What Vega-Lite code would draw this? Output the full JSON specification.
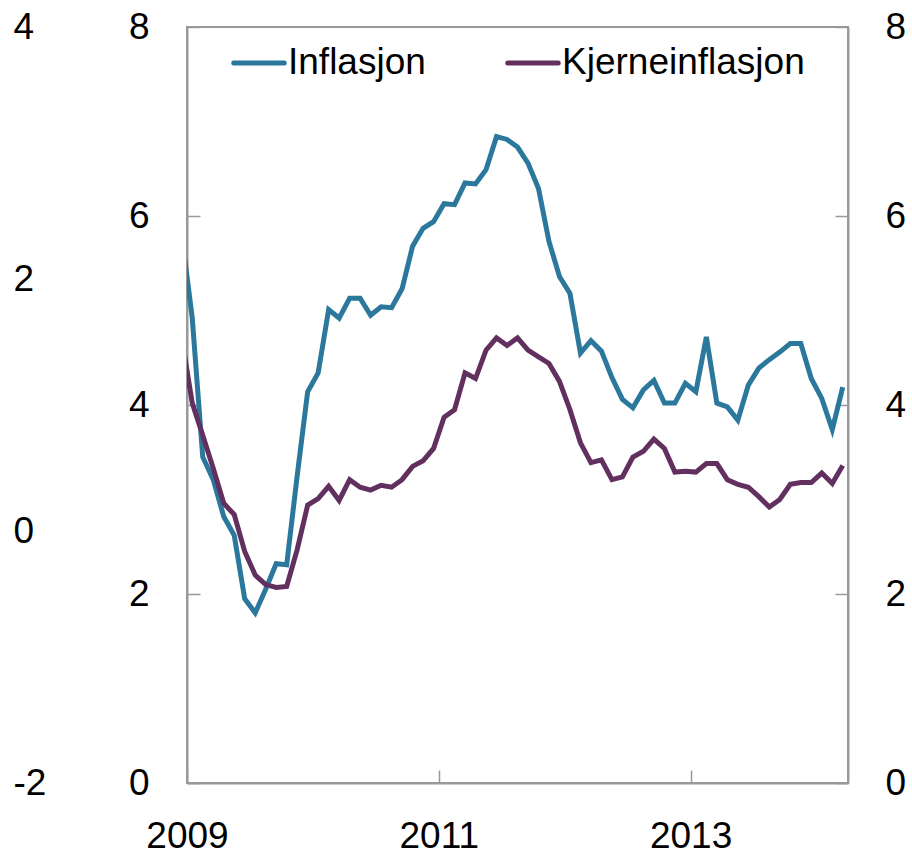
{
  "$schema": "https://vega.github.io/schema/vega-lite/v6.json",
  "width": 661,
  "height": 756,
  "autosize": {"type": "none"},
  "padding": {"left": 187, "top": 27, "right": 64, "bottom": 72},
  "config": {
    "view": {"stroke": "#999999", "strokeWidth": 2},
    "font": "Liberation Sans",
    "axis": {
      "labelFont": "Liberation Sans",
      "labelFontSize": 37,
      "labelColor": "#000000",
      "domainColor": "#999999",
      "domainWidth": 2,
      "tickColor": "#999999",
      "tickWidth": 1.5,
      "grid": false,
      "title": null
    }
  },
  "data": {
    "values": [
      {"t": 2008.9583, "s": "Inflasjon", "v": 5.8},
      {"t": 2009.0417, "s": "Inflasjon", "v": 4.92},
      {"t": 2009.125, "s": "Inflasjon", "v": 3.45},
      {"t": 2009.2083, "s": "Inflasjon", "v": 3.21},
      {"t": 2009.2917, "s": "Inflasjon", "v": 2.82},
      {"t": 2009.375, "s": "Inflasjon", "v": 2.62},
      {"t": 2009.4583, "s": "Inflasjon", "v": 1.95},
      {"t": 2009.5417, "s": "Inflasjon", "v": 1.8},
      {"t": 2009.625, "s": "Inflasjon", "v": 2.05},
      {"t": 2009.7083, "s": "Inflasjon", "v": 2.32},
      {"t": 2009.7917, "s": "Inflasjon", "v": 2.31},
      {"t": 2009.875, "s": "Inflasjon", "v": 3.25},
      {"t": 2009.9583, "s": "Inflasjon", "v": 4.14},
      {"t": 2010.0417, "s": "Inflasjon", "v": 4.34},
      {"t": 2010.125, "s": "Inflasjon", "v": 5.01},
      {"t": 2010.2083, "s": "Inflasjon", "v": 4.92},
      {"t": 2010.2917, "s": "Inflasjon", "v": 5.13},
      {"t": 2010.375, "s": "Inflasjon", "v": 5.13},
      {"t": 2010.4583, "s": "Inflasjon", "v": 4.95},
      {"t": 2010.5417, "s": "Inflasjon", "v": 5.04},
      {"t": 2010.625, "s": "Inflasjon", "v": 5.03},
      {"t": 2010.7083, "s": "Inflasjon", "v": 5.23},
      {"t": 2010.7917, "s": "Inflasjon", "v": 5.68},
      {"t": 2010.875, "s": "Inflasjon", "v": 5.87},
      {"t": 2010.9583, "s": "Inflasjon", "v": 5.94},
      {"t": 2011.0417, "s": "Inflasjon", "v": 6.13},
      {"t": 2011.125, "s": "Inflasjon", "v": 6.12},
      {"t": 2011.2083, "s": "Inflasjon", "v": 6.35},
      {"t": 2011.2917, "s": "Inflasjon", "v": 6.34},
      {"t": 2011.375, "s": "Inflasjon", "v": 6.49},
      {"t": 2011.4583, "s": "Inflasjon", "v": 6.84},
      {"t": 2011.5417, "s": "Inflasjon", "v": 6.81},
      {"t": 2011.625, "s": "Inflasjon", "v": 6.73},
      {"t": 2011.7083, "s": "Inflasjon", "v": 6.56},
      {"t": 2011.7917, "s": "Inflasjon", "v": 6.29},
      {"t": 2011.875, "s": "Inflasjon", "v": 5.73},
      {"t": 2011.9583, "s": "Inflasjon", "v": 5.36},
      {"t": 2012.0417, "s": "Inflasjon", "v": 5.18},
      {"t": 2012.125, "s": "Inflasjon", "v": 4.55},
      {"t": 2012.2083, "s": "Inflasjon", "v": 4.68},
      {"t": 2012.2917, "s": "Inflasjon", "v": 4.57},
      {"t": 2012.375, "s": "Inflasjon", "v": 4.29},
      {"t": 2012.4583, "s": "Inflasjon", "v": 4.06},
      {"t": 2012.5417, "s": "Inflasjon", "v": 3.97},
      {"t": 2012.625, "s": "Inflasjon", "v": 4.16},
      {"t": 2012.7083, "s": "Inflasjon", "v": 4.26},
      {"t": 2012.7917, "s": "Inflasjon", "v": 4.02},
      {"t": 2012.875, "s": "Inflasjon", "v": 4.02},
      {"t": 2012.9583, "s": "Inflasjon", "v": 4.23},
      {"t": 2013.0417, "s": "Inflasjon", "v": 4.14},
      {"t": 2013.125, "s": "Inflasjon", "v": 4.72},
      {"t": 2013.2083, "s": "Inflasjon", "v": 4.02},
      {"t": 2013.2917, "s": "Inflasjon", "v": 3.98},
      {"t": 2013.375, "s": "Inflasjon", "v": 3.84},
      {"t": 2013.4583, "s": "Inflasjon", "v": 4.21},
      {"t": 2013.5417, "s": "Inflasjon", "v": 4.39},
      {"t": 2013.625, "s": "Inflasjon", "v": 4.48},
      {"t": 2013.7083, "s": "Inflasjon", "v": 4.56},
      {"t": 2013.7917, "s": "Inflasjon", "v": 4.65},
      {"t": 2013.875, "s": "Inflasjon", "v": 4.65},
      {"t": 2013.9583, "s": "Inflasjon", "v": 4.28},
      {"t": 2014.0417, "s": "Inflasjon", "v": 4.07},
      {"t": 2014.125, "s": "Inflasjon", "v": 3.74},
      {"t": 2014.2083, "s": "Inflasjon", "v": 4.19},
      {"t": 2008.9583, "s": "Kjerneinflasjon", "v": 4.71},
      {"t": 2009.0417, "s": "Kjerneinflasjon", "v": 4.02},
      {"t": 2009.125, "s": "Kjerneinflasjon", "v": 3.68},
      {"t": 2009.2083, "s": "Kjerneinflasjon", "v": 3.33},
      {"t": 2009.2917, "s": "Kjerneinflasjon", "v": 2.96},
      {"t": 2009.375, "s": "Kjerneinflasjon", "v": 2.84},
      {"t": 2009.4583, "s": "Kjerneinflasjon", "v": 2.45},
      {"t": 2009.5417, "s": "Kjerneinflasjon", "v": 2.2},
      {"t": 2009.625, "s": "Kjerneinflasjon", "v": 2.1},
      {"t": 2009.7083, "s": "Kjerneinflasjon", "v": 2.07},
      {"t": 2009.7917, "s": "Kjerneinflasjon", "v": 2.08},
      {"t": 2009.875, "s": "Kjerneinflasjon", "v": 2.47},
      {"t": 2009.9583, "s": "Kjerneinflasjon", "v": 2.94},
      {"t": 2010.0417, "s": "Kjerneinflasjon", "v": 3.01},
      {"t": 2010.125, "s": "Kjerneinflasjon", "v": 3.14},
      {"t": 2010.2083, "s": "Kjerneinflasjon", "v": 2.99},
      {"t": 2010.2917, "s": "Kjerneinflasjon", "v": 3.21},
      {"t": 2010.375, "s": "Kjerneinflasjon", "v": 3.13},
      {"t": 2010.4583, "s": "Kjerneinflasjon", "v": 3.1},
      {"t": 2010.5417, "s": "Kjerneinflasjon", "v": 3.15},
      {"t": 2010.625, "s": "Kjerneinflasjon", "v": 3.13},
      {"t": 2010.7083, "s": "Kjerneinflasjon", "v": 3.21},
      {"t": 2010.7917, "s": "Kjerneinflasjon", "v": 3.35},
      {"t": 2010.875, "s": "Kjerneinflasjon", "v": 3.41},
      {"t": 2010.9583, "s": "Kjerneinflasjon", "v": 3.54},
      {"t": 2011.0417, "s": "Kjerneinflasjon", "v": 3.87},
      {"t": 2011.125, "s": "Kjerneinflasjon", "v": 3.95},
      {"t": 2011.2083, "s": "Kjerneinflasjon", "v": 4.34},
      {"t": 2011.2917, "s": "Kjerneinflasjon", "v": 4.28},
      {"t": 2011.375, "s": "Kjerneinflasjon", "v": 4.58},
      {"t": 2011.4583, "s": "Kjerneinflasjon", "v": 4.71},
      {"t": 2011.5417, "s": "Kjerneinflasjon", "v": 4.63},
      {"t": 2011.625, "s": "Kjerneinflasjon", "v": 4.71},
      {"t": 2011.7083, "s": "Kjerneinflasjon", "v": 4.58},
      {"t": 2011.7917, "s": "Kjerneinflasjon", "v": 4.51},
      {"t": 2011.875, "s": "Kjerneinflasjon", "v": 4.44},
      {"t": 2011.9583, "s": "Kjerneinflasjon", "v": 4.25},
      {"t": 2012.0417, "s": "Kjerneinflasjon", "v": 3.95},
      {"t": 2012.125, "s": "Kjerneinflasjon", "v": 3.6},
      {"t": 2012.2083, "s": "Kjerneinflasjon", "v": 3.39},
      {"t": 2012.2917, "s": "Kjerneinflasjon", "v": 3.42},
      {"t": 2012.375, "s": "Kjerneinflasjon", "v": 3.21},
      {"t": 2012.4583, "s": "Kjerneinflasjon", "v": 3.24},
      {"t": 2012.5417, "s": "Kjerneinflasjon", "v": 3.45},
      {"t": 2012.625, "s": "Kjerneinflasjon", "v": 3.51},
      {"t": 2012.7083, "s": "Kjerneinflasjon", "v": 3.64},
      {"t": 2012.7917, "s": "Kjerneinflasjon", "v": 3.54},
      {"t": 2012.875, "s": "Kjerneinflasjon", "v": 3.29},
      {"t": 2012.9583, "s": "Kjerneinflasjon", "v": 3.3},
      {"t": 2013.0417, "s": "Kjerneinflasjon", "v": 3.29},
      {"t": 2013.125, "s": "Kjerneinflasjon", "v": 3.38},
      {"t": 2013.2083, "s": "Kjerneinflasjon", "v": 3.38},
      {"t": 2013.2917, "s": "Kjerneinflasjon", "v": 3.21},
      {"t": 2013.375, "s": "Kjerneinflasjon", "v": 3.16},
      {"t": 2013.4583, "s": "Kjerneinflasjon", "v": 3.13},
      {"t": 2013.5417, "s": "Kjerneinflasjon", "v": 3.03},
      {"t": 2013.625, "s": "Kjerneinflasjon", "v": 2.92},
      {"t": 2013.7083, "s": "Kjerneinflasjon", "v": 3.0},
      {"t": 2013.7917, "s": "Kjerneinflasjon", "v": 3.16},
      {"t": 2013.875, "s": "Kjerneinflasjon", "v": 3.18},
      {"t": 2013.9583, "s": "Kjerneinflasjon", "v": 3.18},
      {"t": 2014.0417, "s": "Kjerneinflasjon", "v": 3.28},
      {"t": 2014.125, "s": "Kjerneinflasjon", "v": 3.17},
      {"t": 2014.2083, "s": "Kjerneinflasjon", "v": 3.36}
    ]
  },
  "layer": [
    {
      "mark": {"type": "line", "clip": true, "strokeWidth": 5},
      "encoding": {
        "x": {
          "field": "t",
          "type": "quantitative",
          "scale": {"domain": [2009, 2014.25], "nice": false, "zero": false},
          "axis": {
            "orient": "bottom",
            "values": [2009, 2011, 2013],
            "format": "d",
            "tickSize": -13,
            "labelPadding": 48,
            "labelFlush": false,
            "labelOverlap": false
          }
        },
        "y": {
          "field": "v",
          "type": "quantitative",
          "scale": {"domain": [0, 8], "nice": false},
          "axis": {
            "orient": "left",
            "values": [0, 2, 4, 6, 8],
            "tickSize": -13,
            "labelPadding": 51,
            "labelOverlap": false
          }
        },
        "color": {
          "field": "s",
          "type": "nominal",
          "scale": {"domain": ["Inflasjon", "Kjerneinflasjon"], "range": ["#2b789c", "#62305f"]},
          "legend": {
            "title": null,
            "orient": "none",
            "legendX": 44,
            "legendY": 8,
            "direction": "horizontal",
            "symbolType": "stroke",
            "symbolSize": 2550,
            "symbolStrokeWidth": 5,
            "labelFont": "Liberation Sans",
            "labelFontSize": 37,
            "labelColor": "#000000",
            "labelOffset": 1,
            "columnPadding": 71,
            "padding": 0,
            "labelLimit": 400,
            "encode": {"symbols": {"update": {"strokeCap": {"value": "round"}}}}
          }
        }
      }
    },
    {
      "mark": {"type": "line", "clip": true, "opacity": 0},
      "encoding": {
        "x": {"field": "t", "type": "quantitative", "scale": {"domain": [2009, 2014.25], "nice": false, "zero": false}},
        "y": {
          "field": "v",
          "type": "quantitative",
          "scale": {"domain": [0, 8], "nice": false},
          "axis": {
            "orient": "right",
            "values": [0, 2, 4, 6, 8],
            "tickSize": -13,
            "labelPadding": 50,
            "labelOverlap": false
          }
        },
        "detail": {"field": "s"}
      }
    },
    {
      "mark": {"type": "line", "clip": true, "opacity": 0},
      "encoding": {
        "x": {"field": "t", "type": "quantitative", "scale": {"domain": [2009, 2014.25], "nice": false, "zero": false}},
        "y": {
          "field": "v",
          "type": "quantitative",
          "scale": {"domain": [-2, 4], "nice": false},
          "axis": {
            "orient": "left",
            "values": [-2, 0, 2, 4],
            "labelExpr": "replace(datum.label, '\u2212', '-')",
            "domain": false,
            "ticks": false,
            "labelAlign": "left",
            "labelPadding": 174,
            "labelOverlap": false
          }
        },
        "detail": {"field": "s"}
      }
    }
  ],
  "resolve": {"scale": {"y": "independent"}, "axis": {"y": "independent"}}
}
